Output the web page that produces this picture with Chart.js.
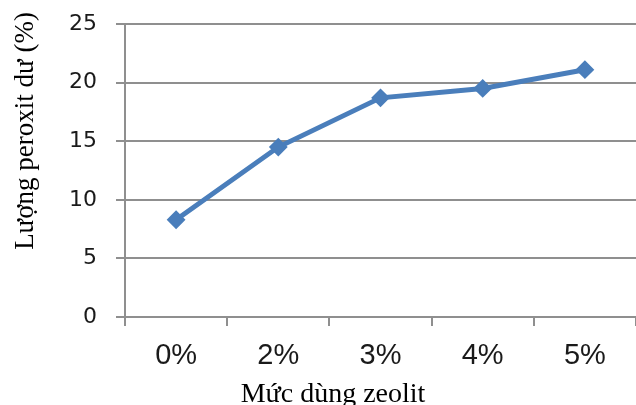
<!DOCTYPE html>
<html>
<head>
<meta charset="utf-8">
<script src="https://cdn.jsdelivr.net/npm/chart.js@4"></script>
<style>
    html, body { margin: 0; padding: 0; background: #fff; }
    #wrap { width: 636px; height: 405px; position: relative; }
</style>
</head>
<body>
<div id="wrap"><canvas id="zeoliteChart"></canvas></div>
<script>
// Dữ liệu biểu đồ
const categories = ['0%', '2%', '3%', '4%', '5%'];
const peroxideValues = [8.3, 14.5, 18.7, 19.5, 21.1];
const yTicks = [0, 5, 10, 15, 20, 25];

const xTitle = 'Mức dùng zeolit';
const yTitle = 'Lượng peroxit dư (%)';

const lineColor = '#4a7ebb';
const gridColor = '#8f8f8f';

// Vẽ tiêu đề trục (giữa theo ảnh gốc, không theo vùng vẽ)
const axisTitles = {
    id: 'axisTitles',
    afterDraw(chart) {
        const ctx = chart.ctx;
        ctx.save();
        ctx.fillStyle = '#000';
        ctx.font = '28px "Liberation Serif", "Times New Roman", serif';
        ctx.textAlign = 'center';
        ctx.textBaseline = 'alphabetic';
        ctx.fillText(xTitle, 333, 402);

        ctx.font = '27px "Liberation Serif", "Times New Roman", serif';
        ctx.translate(33, 131);
        ctx.rotate(-Math.PI / 2);
        ctx.fillText(yTitle, 0, 0);
        ctx.restore();
    }
};

function initChart() {
    const ctx = document.getElementById('zeoliteChart').getContext('2d');

    new Chart(ctx, {
        type: 'line',
        data: {
            labels: categories,
            datasets: [{
                label: 'Peroxit',
                data: peroxideValues,
                borderColor: lineColor,
                backgroundColor: lineColor,
                borderWidth: 5,
                pointStyle: 'rectRot',
                pointRadius: 8,
                pointBorderWidth: 2,
                pointBackgroundColor: lineColor,
                pointBorderColor: lineColor,
                tension: 0,
                fill: false,
                clip: false
            }]
        },
        options: {
            responsive: true,
            maintainAspectRatio: false,
            animation: false,
            layout: {
                autoPadding: false,
                padding: { left: 0, top: 24, right: 0, bottom: 0 }
            },
            plugins: {
                legend: { display: false },
                tooltip: { enabled: false }
            },
            scales: {
                x: {
                    offset: true,
                    grid: {
                        offset: true,
                        drawOnChartArea: false,
                        drawTicks: true,
                        tickLength: 9,
                        color: gridColor,
                        lineWidth: 2
                    },
                    border: { color: gridColor, width: 2 },
                    ticks: {
                        color: '#1a1a1a',
                        padding: 13,
                        font: { family: '"Liberation Sans", Arial, sans-serif', size: 29 }
                    },
                    afterFit(scale) {
                        scale.height = 88;
                        scale.paddingLeft = 0;
                        scale.paddingRight = 0;
                    }
                },
                y: {
                    min: 0,
                    max: 25,
                    afterBuildTicks(scale) {
                        scale.ticks = yTicks.map(v => ({ value: v }));
                    },
                    grid: {
                        tickLength: 9,
                        color: gridColor,
                        lineWidth: 2
                    },
                    border: { color: gridColor, width: 2 },
                    ticks: {
                        color: '#1a1a1a',
                        padding: 19,
                        font: { family: '"DejaVu Sans", sans-serif', size: 22 }
                    },
                    afterFit(scale) {
                        scale.width = 125;
                        scale.paddingTop = 0;
                        scale.paddingBottom = 0;
                    }
                }
            }
        },
        plugins: [axisTitles]
    });
}

window.addEventListener('DOMContentLoaded', () => {
    initChart();
});
</script>
</body>
</html>
